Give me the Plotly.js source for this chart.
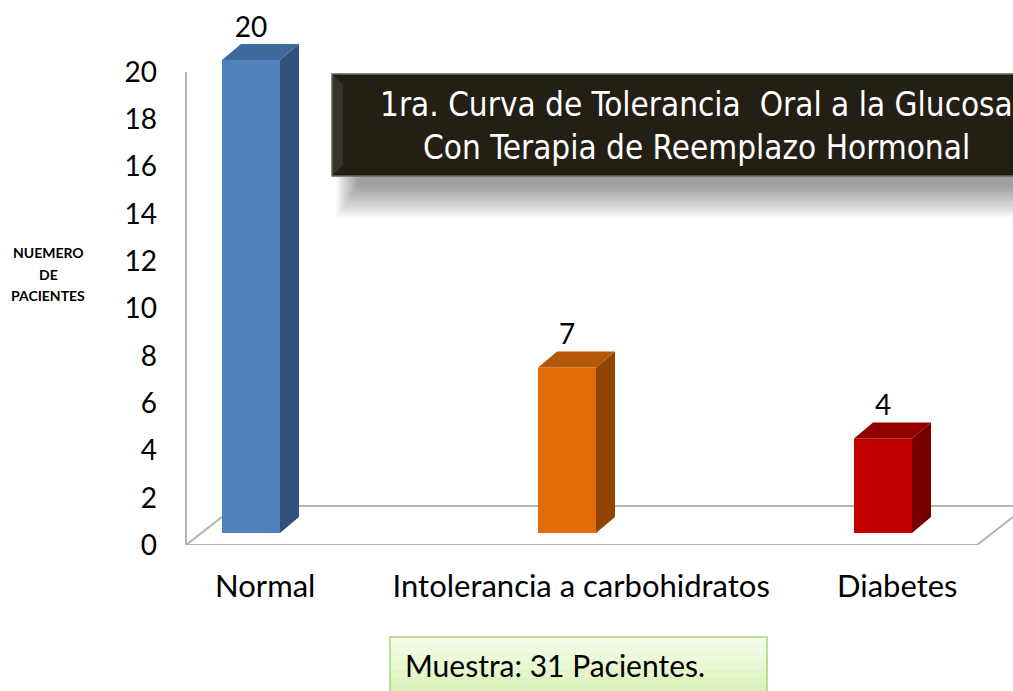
<!DOCTYPE html>
<html>
<head>
<meta charset="utf-8">
<script src="https://cdn.plot.ly/plotly-3.0.1.min.js"></script>
<style>html,body{margin:0;padding:0;background:#fff;}#chart{width:1013px;height:691px;}</style>
</head>
<body>
<div id="chart"></div>
<script>
// ---- data ----
const categories = ['Normal', 'Intolerancia a carbohidratos', 'Diabetes'];
const pacientes = [20, 7, 4];
const yTickVals = [0, 2, 4, 6, 8, 10, 12, 14, 16, 18, 20];
const frontColors = ['#4f81bd', '#e36c0a', '#c00000'];
const topColors = ['#3f6a9e', '#b45708', '#930000'];
const sideColors = ['#31527c', '#8f4406', '#760000'];
const titleLines = ['1ra. Curva de Tolerancia\u00a0\u00a0Oral a la Glucosa', 'Con Terapia de Reemplazo Hormonal'];
const yTitleLines = ['NUEMERO', 'DE', 'PACIENTES'];
const sampleText = 'Muestra: 31 Pacientes.';

// ---- layout geometry (pixels) ----
const W = 1013, H = 691;
const mL = 186, mR = 0, mT = 20, mB = 146;
const plotW = W - mL - mR, plotH = H - mT - mB;
const xUnitPx = 316, x0Px = 251;          // pixel of first category
const yUnitPx = 23.65;                      // pixels per patient
const barBaseLift = 12;                     // bars sit a bit behind the floor front edge
const barWpx = 58, depthDxPx = 19, depthDyPx = 16;
const floorDxPx = 50, floorDyPx = 39;

const xRange = [(mL - x0Px) / xUnitPx, (W - mR - x0Px) / xUnitPx];
const yRange = [0, plotH / yUnitPx];
const y2Range = [-barBaseLift / yUnitPx, (plotH - barBaseLift) / yUnitPx];
const bw = barWpx / xUnitPx, ddx = depthDxPx / xUnitPx, ddy = depthDyPx / yUnitPx;
const px = x => (x - mL) / plotW;
const py = y => (H - mB - y) / plotH;

const idx = categories.map((c, i) => i);
const traces = [];

// front faces
traces.push({
  type: 'bar', x: idx, y: pacientes, width: bw, yaxis: 'y2',
  marker: {color: frontColors, line: {width: 0}}, hoverinfo: 'skip', showlegend: false
});
// side and top faces
idx.forEach(i => {
  const v = pacientes[i];
  const r = i + bw / 2, l = i - bw / 2;
  traces.push({
    type: 'scatter', mode: 'lines', fill: 'toself', yaxis: 'y2',
    x: [r, r + ddx, r + ddx, r, r], y: [0, ddy, v + ddy, v, 0],
    fillcolor: sideColors[i], line: {width: 0, color: sideColors[i]}, hoverinfo: 'skip', showlegend: false
  });
  traces.push({
    type: 'scatter', mode: 'lines', fill: 'toself', yaxis: 'y2',
    x: [l, r, r + ddx, l + ddx, l], y: [v, v, v + ddy, v + ddy, v],
    fillcolor: topColors[i], line: {width: 0, color: topColors[i]}, hoverinfo: 'skip', showlegend: false
  });
});
// value labels
traces.push({
  type: 'scatter', mode: 'text', yaxis: 'y2', x: idx, y: pacientes.map(v => v + ddy),
  text: pacientes.map(String), textposition: 'top center', cliponaxis: false,
  textfont: {family: 'Lato, sans-serif', size: 28, color: '#000'}, hoverinfo: 'skip', showlegend: false
});

// floor
const fxL = xRange[0], fxR = (977 - x0Px) / xUnitPx;
const fdx = floorDxPx / xUnitPx, fdy = floorDyPx / yUnitPx;
const shapes = [
  {type: 'path', xref: 'x', yref: 'y', layer: 'below',
   path: `M${fxL},0 L${fxR},0 L${fxR + fdx},${fdy} L${fxL + fdx},${fdy} Z`,
   line: {color: '#b3b3b3', width: 2}, fillcolor: 'rgba(0,0,0,0)'},
  {type: 'line', xref: 'paper', yref: 'y', layer: 'below', x0: 0, x1: 0, y0: 0, y1: yTickVals[yTickVals.length - 1],
   line: {color: '#b3b3b3', width: 2}}
];
// title box soft shadow
for (let k = 0; k < 18; k++) {
  shapes.push({type: 'rect', xref: 'paper', yref: 'paper',
    x0: px(336 + k * 1.3), x1: 1.05, y0: py(218 - k * 1.9), y1: py(176),
    fillcolor: 'rgba(0,0,0,0.024)', line: {width: 0}});
}
// title box
shapes.push({type: 'rect', xref: 'paper', yref: 'paper', x0: px(332), x1: 1.05, y0: py(176), y1: py(74),
  fillcolor: '#231f15', line: {color: '#6b6659', width: 1.5}});
shapes.push({type: 'path', xref: 'paper', yref: 'paper',
  path: `M${px(333)},${py(75)} L${px(343)},${py(85)} L${px(343)},${py(165)} L${px(333)},${py(175)} Z`,
  fillcolor: '#37322a', line: {width: 0}});
// sample box (gradient)
const gTop = [244, 252, 232], gBot = [214, 240, 178];
const nb = 8, bTop = 637, bBot = 700;
for (let k = 0; k < nb; k++) {
  const t = k / (nb - 1);
  const c = gTop.map((a, j) => Math.round(a + (gBot[j] - a) * t));
  const y0p = bTop + (bBot - bTop) * k / nb, y1p = bTop + (bBot - bTop) * (k + 1) / nb;
  shapes.push({type: 'rect', xref: 'paper', yref: 'paper', x0: px(390), x1: px(767), y0: py(y1p), y1: py(y0p),
    fillcolor: `rgb(${c.join(',')})`, line: {width: 0}});
}
shapes.push({type: 'rect', xref: 'paper', yref: 'paper', x0: px(390), x1: px(767), y0: py(bBot), y1: py(bTop),
  fillcolor: 'rgba(0,0,0,0)', line: {color: '#a9d37c', width: 1.5}});

const annotations = [];
titleLines.forEach((t, k) => annotations.push({
  xref: 'paper', yref: 'paper', x: px(696), y: py(105 + k * 42), xanchor: 'center', yanchor: 'middle',
  text: t, showarrow: false,
  font: {family: '"Liberation Sans Narrow", "DejaVu Sans Condensed", sans-serif', size: 33, color: '#ffffff'}
}));
yTitleLines.forEach((t, k) => annotations.push({
  xref: 'paper', yref: 'paper', x: px(48), y: py(253 + k * 21), xanchor: 'center', yanchor: 'middle',
  text: '<b>' + t + '</b>', showarrow: false,
  font: {family: 'Lato, sans-serif', size: 14, color: '#000'}
}));
annotations.push({
  xref: 'paper', yref: 'paper', x: px(403), y: py(665), xanchor: 'left', yanchor: 'middle',
  text: sampleText, showarrow: false, font: {family: 'Lato, sans-serif', size: 30, color: '#000'}
});

const layout = {
  width: W, height: H, margin: {l: mL, r: mR, t: mT, b: mB},
  paper_bgcolor: '#fff', plot_bgcolor: 'rgba(0,0,0,0)',
  showlegend: false, barmode: 'overlay',
  xaxis: {range: xRange, tickvals: idx.map(i => i + 0.045), ticktext: categories,
    showgrid: false, zeroline: false, showline: false, ticks: '', ticklabelstandoff: 20,
    tickfont: {family: 'Lato, sans-serif', size: 31, color: '#000'}, fixedrange: true},
  yaxis: {range: yRange, tickvals: yTickVals, ticktext: yTickVals.map(String),
    showgrid: false, zeroline: false, showline: false, ticks: '', ticklabelstandoff: 28,
    tickfont: {family: 'Lato, sans-serif', size: 28, color: '#000'}, fixedrange: true},
  yaxis2: {range: y2Range, overlaying: 'y', visible: false, fixedrange: true},
  shapes: shapes, annotations: annotations
};
Plotly.newPlot('chart', traces, layout, {displayModeBar: false, staticPlot: true});
</script>
</body>
</html>
